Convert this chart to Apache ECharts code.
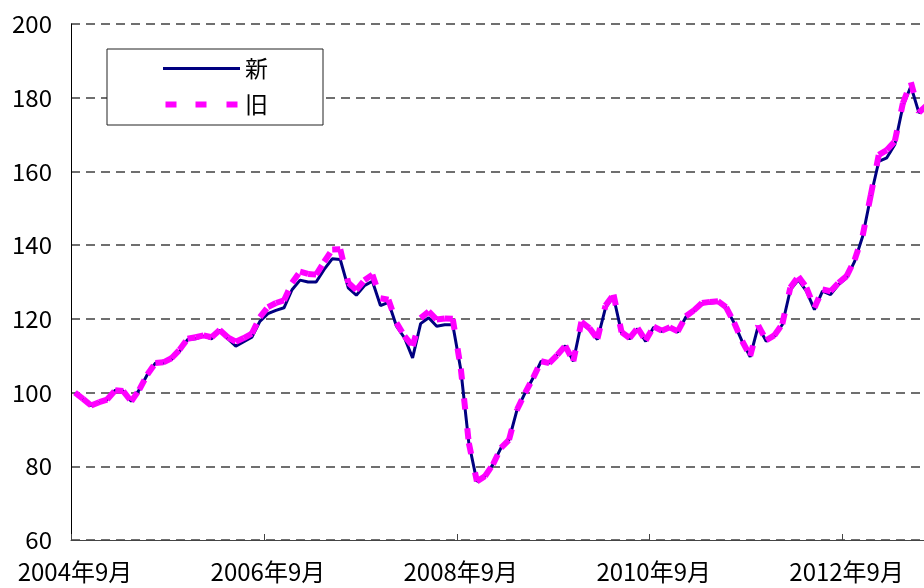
<!DOCTYPE html>
<html>
<head>
<meta charset="utf-8">
<script src="https://cdn.jsdelivr.net/npm/echarts/dist/echarts.min.js"></script>
<style>
html,body{margin:0;padding:0;background:#fff;}
#c{width:924px;height:588px;}
</style>
</head>
<body>
<div id="c"></div>
<script>
// Monthly categories starting 2004年9月
const startYear = 2004;
const startMonth = 9;
const monthCount = 107;
const categories = [];
for (let k = 0; k < monthCount; k++) {
  const m0 = startMonth - 1 + k;
  categories.push((startYear + Math.floor(m0 / 12)) + '年' + (m0 % 12 + 1) + '月');
}

const seriesNames = ['新', '旧'];

// 新 (new)
const newValues = [
  100, 98.3, 96.5, 97.4, 98.1, 100.6, 100.4, 97.6, 100.8, 104.9,
  108, 108, 109, 111.2, 114.4, 114.6, 115.3, 114.6, 116.9, 114.6,
  112.6, 113.8, 115, 119.3, 121.4, 122.3, 123, 127.9, 130.5, 130,
  130, 133.4, 136.3, 136.1, 128.4, 126.4, 129, 130.2, 123.6, 124.5,
  118, 114.8, 109.4, 118.7, 120.3, 118, 118.4, 118.4, 106.2, 86.3,
  75.9, 77.3, 80.5, 85, 87.2, 95.4, 99.9, 104, 108.5, 108,
  110.2, 112.7, 108.5, 118.9, 117.1, 114.4, 123, 126, 116.2, 114.6,
  117.3, 113.9, 117.7, 116.6, 117.5, 116.4, 120.5, 122.1, 124.1, 124.3,
  124.5, 123, 118.9, 113.9, 109.7, 118, 113.9, 115.3, 118.4, 127.9,
  130.6, 127.5, 122.5, 127.5, 126.6, 129.3, 131.1, 135.6, 142.4, 153.2,
  162.7, 163.7, 167.3, 177.7, 183.1, 175.9, 178
];

// 旧 (old)
const oldValues = [
  100, 98.3, 96.5, 97.4, 98.1, 100.6, 100.4, 97.6, 100.8, 104.9,
  108, 108.2, 109.3, 111.6, 114.6, 115, 115.5, 115, 117, 115,
  113.8, 114.8, 116, 120.5, 123.2, 124.3, 125, 129.8, 132.8, 132.2,
  132, 135.5, 138.8, 138.9, 129.8, 127.8, 130.5, 132, 125.6, 125.2,
  118.9, 115.3, 112.6, 120.2, 122, 119.8, 120.1, 120, 106.5, 86.3,
  75.9, 77.3, 80.5, 85, 87.2, 95.4, 99.9, 104, 108.5, 108,
  110.2, 112.7, 108.5, 119.2, 117.5, 114.6, 123.6, 126.6, 116.4, 114.8,
  117.5, 114.1, 117.9, 116.8, 117.7, 116.6, 120.7, 122.3, 124.3, 124.6,
  124.8, 123.2, 119, 114, 109.9, 118.2, 114.2, 115.5, 118.6, 128.5,
  131.5, 128.5, 123, 128, 127.5, 129.8, 131.6, 136, 142.6, 153.5,
  164.5, 165.8, 168.2, 178.5, 184.2, 176, 178
];

const yMin = 60, yMax = 200, yInterval = 20;
const labelEvery = 24;

const FONT = '"Noto Sans CJK JP", "Noto Sans", sans-serif';
const chart = echarts.init(document.getElementById('c'), null, {renderer: 'canvas'});

chart.setOption({
  animation: false,
  backgroundColor: '#ffffff',
  grid: {
    left: 71, top: 24, width: 860, height: 516,
    containLabel: false, outerBoundsMode: 'none'
  },
  legend: {
    orient: 'vertical',
    left: 107, top: 49,
    padding: [8, 55, 9, 56],
    itemGap: 13,
    itemWidth: 77,
    itemHeight: 6,
    backgroundColor: '#ffffff',
    borderColor: '#222222',
    borderWidth: 1,
    borderRadius: 0,
    selectedMode: false,
    textStyle: {fontSize: 23, color: '#000', fontFamily: FONT},
    data: [
      {name: seriesNames[0], icon: 'path://M0,0h77v3h-77z', itemStyle: {color: '#000080'}},
      {name: seriesNames[1], icon: 'path://M0,0h11v6h-11z M30,0h11v6h-11z M61,0h11v6h-11z'}
    ]
  },
  xAxis: {
    type: 'category',
    data: categories,
    boundaryGap: true,
    axisLine: {show: true, lineStyle: {color: '#444', width: 1}},
    axisTick: {show: true, inside: true, length: 6, interval: labelEvery - 1, lineStyle: {color: '#444', width: 1}},
    axisLabel: {interval: labelEvery - 1, fontSize: 24, color: '#000', fontFamily: FONT, margin: 20},
    splitLine: {show: false}
  },
  yAxis: {
    type: 'value',
    min: yMin, max: yMax, interval: yInterval,
    axisLine: {show: true, lineStyle: {color: '#000', width: 1}},
    axisTick: {show: false},
    axisLabel: {fontSize: 24, color: '#000', fontFamily: FONT, margin: 19},
    splitLine: {show: true, lineStyle: {color: '#404040', width: 1.5, type: [9, 6]}}
  },
  series: [
    {
      name: seriesNames[0],
      type: 'line',
      data: newValues,
      symbol: 'none',
      showSymbol: false,
      lineStyle: {color: '#000080', width: 3},
      itemStyle: {color: '#000080'},
      z: 2
    },
    {
      name: seriesNames[1],
      type: 'custom',
      data: oldValues.map(function (v, i) { return [i, v]; }),
      encode: {x: 0, y: 1},
      itemStyle: {color: '#FF00FF'},
      z: 3,
      renderItem: function (params, api) {
        const i = params.dataIndex;
        if (i === 0) return null;
        const p0 = api.coord([i - 1, oldValues[i - 1]]);
        const p1 = api.coord([i, oldValues[i]]);
        return {
          type: 'line',
          shape: {x1: p0[0], y1: p0[1], x2: p1[0], y2: p1[1]},
          style: {stroke: '#FF00FF', lineWidth: 6, lineDash: [11, 19], fill: null}
        };
      }
    }
  ]
});
</script>
</body>
</html>
